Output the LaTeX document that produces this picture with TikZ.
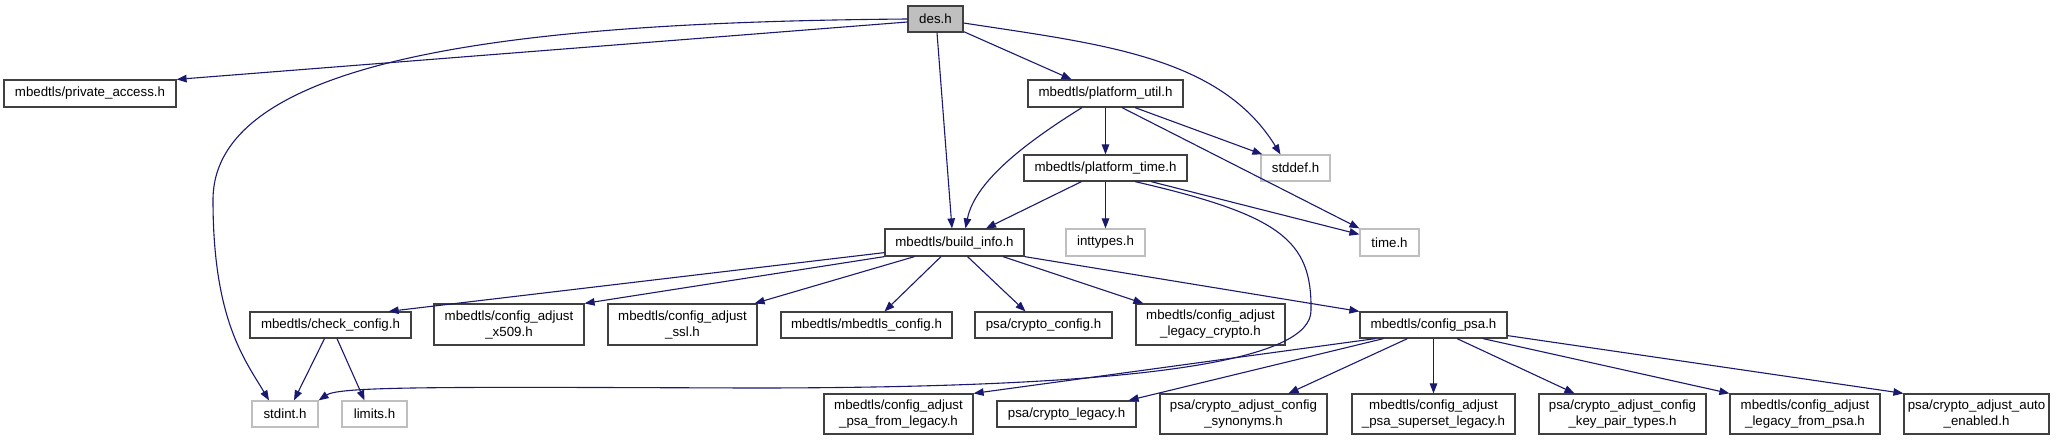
\documentclass[tikz,border=0pt]{standalone}
\usepackage{fontspec}
\setmainfont{Liberation Sans}
\usetikzlibrary{arrows.meta}
\definecolor{edgec}{HTML}{191970}
\definecolor{sysgray}{HTML}{BFBFBF}
\definecolor{bord}{HTML}{404040}
\newcommand\bx[7]{\node[#6,minimum width={(#4-#2)*1pt},minimum height={(#5-#3)*1pt}] (#1) at ({(#2+#4)/2},{(#3+#5)/2}) {#7};}
\begin{document}
\begin{tikzpicture}[x=1pt,y=-1pt,
  box/.style={draw=bord,line width=1.2pt,fill=white,inner sep=0pt,align=center,font=\fontsize{13.3}{16}\selectfont},
  sys/.style={box,draw=sysgray},
  mainbox/.style={box,fill=sysgray},
  dep/.style={draw=edgec,line width=1.1pt,-{Triangle[length=10pt,width=7.5pt]}}]
\useasboundingbox[fill=white] (0,0) rectangle (2067,440);
% nodes
\bx{des}{908}{6}{963}{32}{mainbox}{des.h}
\bx{pa}{4}{80}{176}{107}{box}{mbedtls/private\_access.h}
\bx{pu}{1028}{80}{1183}{107}{box}{mbedtls/platform\_util.h}
\bx{pt}{1024}{155}{1187}{181}{box}{mbedtls/platform\_time.h}
\bx{sd}{1261}{155}{1330}{181}{sys}{stddef.h}
\bx{bi}{885}{229}{1024}{256}{box}{mbedtls/build\_info.h}
\bx{it}{1066}{229}{1145}{256}{sys}{inttypes.h}
\bx{tm}{1360}{229}{1419}{256}{sys}{time.h}
\bx{cc}{250}{312}{411}{338}{box}{mbedtls/check\_config.h}
\bx{xf}{434}{304}{584}{345}{box}{mbedtls/config\_adjust\\\_x509.h}
\bx{ssl}{608}{304}{757}{345}{box}{mbedtls/config\_adjust\\\_ssl.h}
\bx{mc}{781}{312}{952}{338}{box}{mbedtls/mbedtls\_config.h}
\bx{cpc}{975}{312}{1112}{338}{box}{psa/crypto\_config.h}
\bx{lc}{1136}{304}{1285}{345}{box}{mbedtls/config\_adjust\\\_legacy\_crypto.h}
\bx{cp}{1360}{312}{1507}{338}{box}{mbedtls/config\_psa.h}
\bx{si}{252}{401}{318}{427}{sys}{stdint.h}
\bx{li}{342}{401}{407}{427}{sys}{limits.h}
\bx{pfl}{824}{394}{973}{434}{box}{mbedtls/config\_adjust\\\_psa\_from\_legacy.h}
\bx{cl}{997}{401}{1136}{427}{box}{psa/crypto\_legacy.h}
\bx{syn}{1160}{394}{1327}{434}{box}{psa/crypto\_adjust\_config\\\_synonyms.h}
\bx{sup}{1352}{394}{1515}{434}{box}{mbedtls/config\_adjust\\\_psa\_superset\_legacy.h}
\bx{kp}{1539}{394}{1706}{434}{box}{psa/crypto\_adjust\_config\\\_key\_pair\_types.h}
\bx{lfp}{1730}{394}{1880}{434}{box}{mbedtls/config\_adjust\\\_legacy\_from\_psa.h}
\bx{ae}{1904}{394}{2049}{434}{box}{psa/crypto\_adjust\_auto\\\_enabled.h}
% edges from des.h
\draw[dep] ([yshift=-3pt]des.west) -- (pa.north east);
\draw[dep] (des.west) .. controls (550,22) and (213,50) .. (213,200)
  .. controls (213,320) and (245,360) .. ([xshift=-16pt]si.north);
\draw[dep] ([xshift=1.5pt]des.south) -- ([xshift=-2.5pt]bi.north);
\draw[dep] ([yshift=1pt]des.south east) -- ([xshift=-34pt]pu.north);
\draw[dep] ([yshift=-4pt]des.east) .. controls (1100,44) and (1220,56) .. ([xshift=-15pt]sd.north);
% platform_util
\draw[dep] ([xshift=-23.5pt]pu.south) .. controls (1030,140) and (975,180) .. ([xshift=11pt]bi.north);
\draw[dep] (pu.south) -- (pt.north);
\draw[dep] ([xshift=16.5pt]pu.south) -- (tm.north west);
\draw[dep] ([xshift=29.5pt]pu.south) -- ([xshift=2pt]sd.north west);
% platform_time
\draw[dep] ([xshift=-24pt]pt.south) -- ([xshift=31.5pt]bi.north);
\draw[dep] (pt.south) -- (it.north);
\draw[dep] ([xshift=45.5pt]pt.south) -- ([yshift=-6pt]tm.north west);
\draw[dep] ([xshift=29.5pt]pt.south) .. controls (1280,215) and (1312,240) .. (1311,310)
  .. controls (1312,360) and (1150,388) .. (750,388)
  .. controls (450,387) and (340,386) .. (si.north east);
% build_info
\draw[dep] ([yshift=4pt]bi.south west) -- ([xshift=-23pt]cc.north east);
\draw[dep] (bi.south west) -- (xf.north east);
\draw[dep] ([xshift=-40pt]bi.south) -- ([xshift=-3pt]ssl.north east);
\draw[dep] ([xshift=-13.5pt]bi.south) -- ([xshift=18pt]mc.north);
\draw[dep] ([xshift=13pt]bi.south) -- ([xshift=-18pt]cpc.north);
\draw[dep] ([xshift=48.5pt]bi.south) -- ([xshift=8pt]lc.north west);
\draw[dep] (bi.south east) -- (cp.north west);
% check_config
\draw[dep] ([xshift=-6pt]cc.south) -- ([xshift=9pt]si.north);
\draw[dep] ([xshift=6.5pt]cc.south) -- ([xshift=-10pt]li.north);
% config_psa
\draw[dep] ([xshift=-58pt]cp.south) -- (pfl.north east);
\draw[dep] ([xshift=-50pt]cp.south) -- ([xshift=-8pt]cl.north east);
\draw[dep] ([xshift=-26pt]cp.south) -- ([xshift=45pt]syn.north);
\draw[dep] (cp.south) -- (sup.north);
\draw[dep] ([xshift=23.5pt]cp.south) -- ([xshift=-48pt]kp.north);
\draw[dep] ([xshift=49.5pt]cp.south) -- (lfp.north west);
\draw[dep] ([yshift=3pt]cp.south east) -- (ae.north west);
\end{tikzpicture}
\end{document}
